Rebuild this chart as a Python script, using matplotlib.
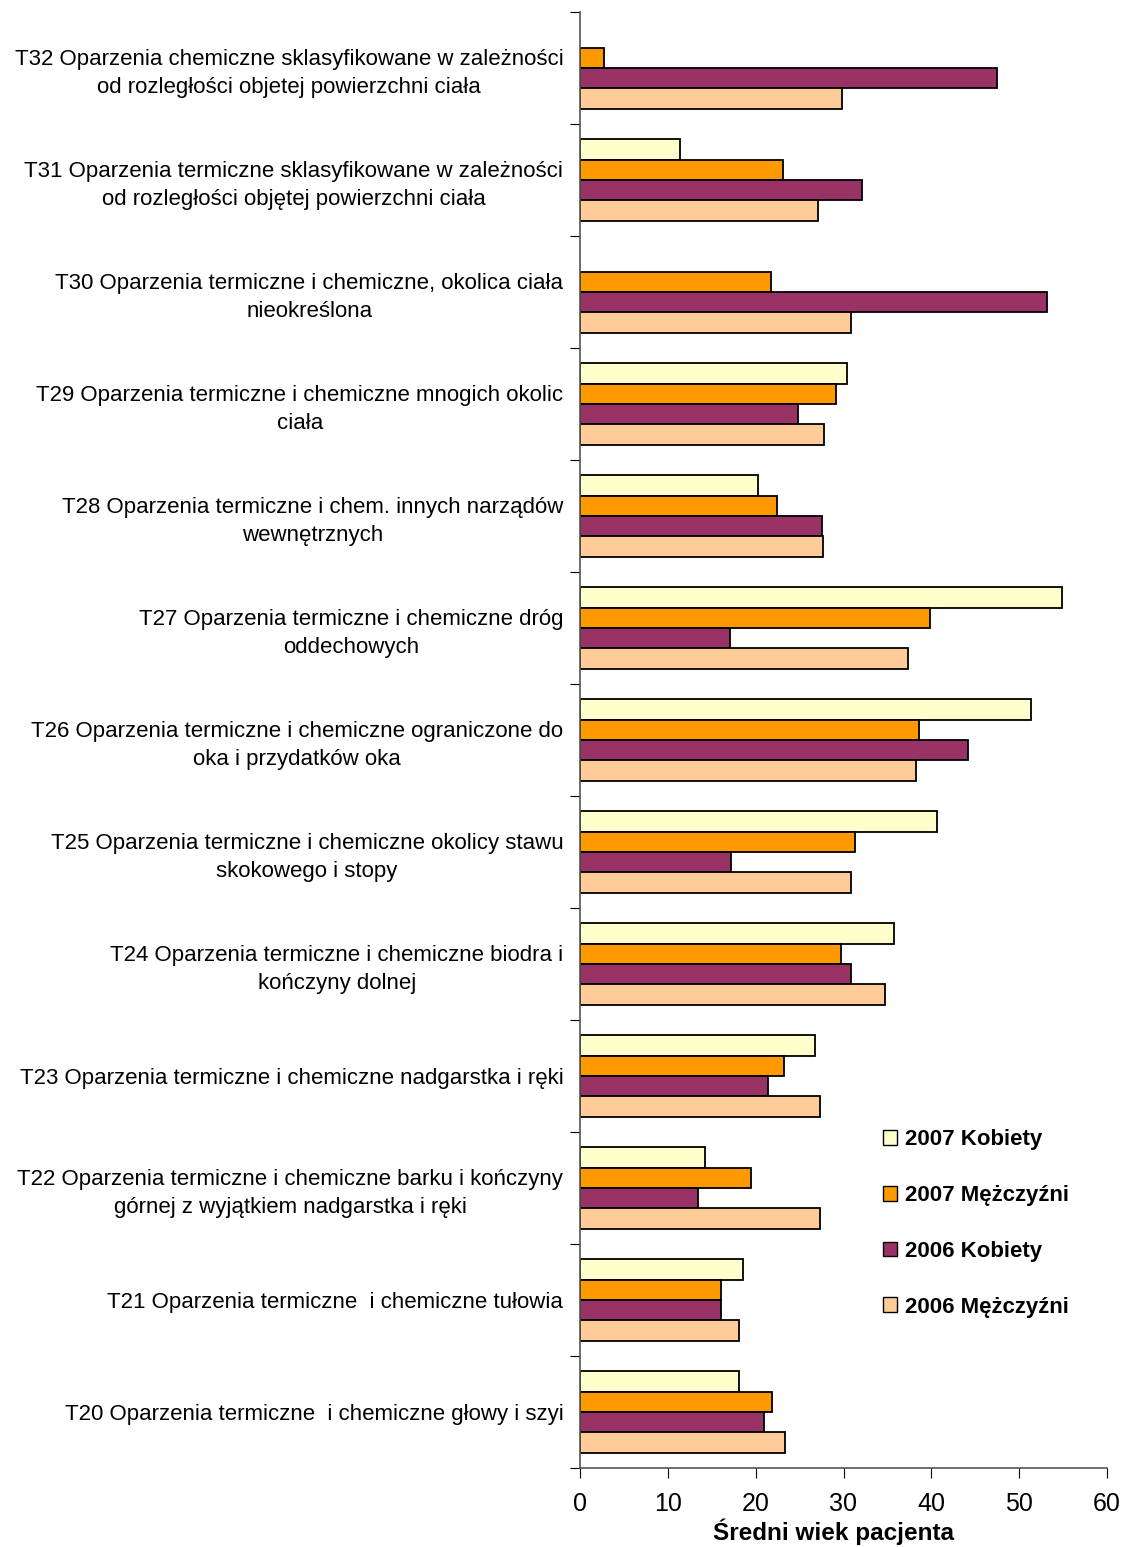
import numpy as np
import matplotlib
matplotlib.use("Agg")
import matplotlib.pyplot as plt
from matplotlib.patches import Patch

plt.rcParams['font.family'] = ['Liberation Sans', 'DejaVu Sans']

# kategorie od dołu (T20) do góry (T32)
categories = [
    "T20 Oparzenia termiczne  i chemiczne głowy i szyi",
    "T21 Oparzenia termiczne  i chemiczne tułowia",
    "T22 Oparzenia termiczne i chemiczne barku i kończyny\ngórnej z wyjątkiem nadgarstka i ręki",
    "T23 Oparzenia termiczne i chemiczne nadgarstka i ręki",
    "T24 Oparzenia termiczne i chemiczne biodra i\nkończyny dolnej",
    "T25 Oparzenia termiczne i chemiczne okolicy stawu\nskokowego i stopy",
    "T26 Oparzenia termiczne i chemiczne ograniczone do\noka i przydatków oka",
    "T27 Oparzenia termiczne i chemiczne dróg\noddechowych",
    "T28 Oparzenia termiczne i chem. innych narządów\nwewnętrznych",
    "T29 Oparzenia termiczne i chemiczne mnogich okolic\nciała",
    "T30 Oparzenia termiczne i chemiczne, okolica ciała\nnieokreślona",
    "T31 Oparzenia termiczne sklasyfikowane w zależności\nod rozległości objętej powierzchni ciała",
    "T32 Oparzenia chemiczne sklasyfikowane w zależności\nod rozległości objetej powierzchni ciała",
]

k2007 = [18.1, 18.6, 14.2, 26.7, 35.8, 40.6, 51.3, 54.9, 20.3, 30.4, np.nan, 11.4, np.nan]
m2007 = [21.9, 16.0, 19.5, 23.2, 29.7, 31.3, 38.6, 39.8, 22.4, 29.2, 21.7, 23.1, 2.7]
k2006 = [21.0, 16.1, 13.4, 21.4, 30.9, 17.2, 44.2, 17.1, 27.6, 24.8, 53.2, 32.1, 47.5]
m2006 = [23.3, 18.1, 27.3, 27.3, 34.7, 30.8, 38.3, 37.3, 27.7, 27.8, 30.9, 27.1, 29.8]

series = [
    ("2007 Kobiety", k2007, "#FFFFCC"),
    ("2007 Mężczyźni", m2007, "#FF9900"),
    ("2006 Kobiety", k2006, "#993366"),
    ("2006 Mężczyźni", m2006, "#FFCC99"),
]

fig = plt.figure(figsize=(11.25, 15.47), dpi=100)
ax = fig.add_axes([580 / 1125, 79 / 1547, 527 / 1125, 1456 / 1547])

y = np.arange(len(categories))
h = 0.181
offsets = [1.5 * h, 0.5 * h, -0.5 * h, -1.5 * h]
for (name, vals, col), off in zip(series, offsets):
    ax.barh(y + off, vals, height=h, color=col, edgecolor="black", linewidth=1.3)

ax.set_xlim(0, 60)
ax.set_ylim(-0.5, len(categories) - 0.5)
ax.set_xticks(range(0, 61, 10))
ax.tick_params(axis="x", direction="out", length=7, labelsize=18, pad=10)

# kreski na granicach kategorii, etykiety w środku
ax.set_yticks(np.arange(-0.5, len(categories), 1.0))
ax.set_yticklabels([])
ax.tick_params(axis="y", which="major", direction="out", length=7)
ax.set_yticks(y, minor=True)
ax.set_yticklabels(categories, minor=True, fontsize=16, multialignment="center",
                   linespacing=1.4)
ax.tick_params(axis="y", which="minor", length=0, pad=12)

for s in ["top", "right"]:
    ax.spines[s].set_visible(False)
for s in ["left", "bottom"]:
    ax.spines[s].set_color("#555555")
    ax.spines[s].set_linewidth(1.2)

ax.set_xlabel("Średni wiek pacjenta", fontsize=17.5, fontweight="bold")
ax.xaxis.set_label_coords(0.481, -0.035)

handles = [Patch(facecolor=c, edgecolor="black", label=n) for n, _, c in series]
leg = ax.legend(handles=handles, loc="upper left", bbox_to_anchor=(863 / 1125, 1 - 1109 / 1547),
                bbox_transform=fig.transFigure, frameon=False, handlelength=0.65,
                handleheight=0.65, handletextpad=0.35, labelspacing=1.57,
                prop={"weight": "bold", "size": 16})

fig.savefig("out.png", dpi=100)
